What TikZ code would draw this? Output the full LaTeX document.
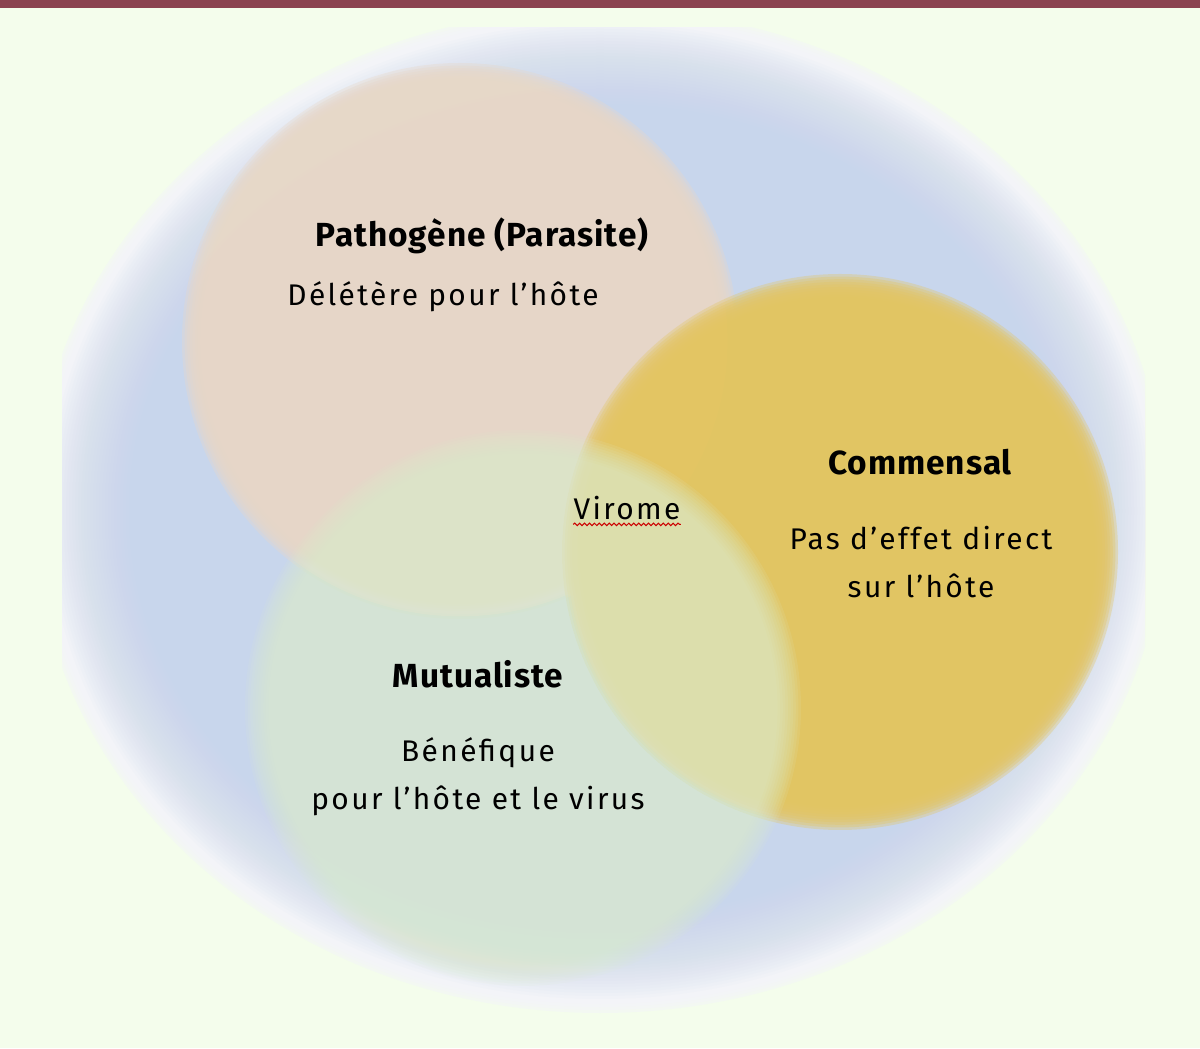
\documentclass[tikz,border=0pt]{standalone}
\usepackage{fontspec}
\setmainfont{Fira Sans}
\usetikzlibrary{decorations.pathmorphing}

\definecolor{fondvert}{RGB}{244,253,236}
\definecolor{bandeau}{RGB}{139,67,80}
\definecolor{halo}{RGB}{243,244,250}
\definecolor{bleu}{RGB}{200,214,236}
\definecolor{rose}{RGB}{232,216,200}
\definecolor{jaune}{RGB}{227,197,99}
\definecolor{vert}{RGB}{220,237,207}

\tikzset{
	titre/.style={font=\addfontfeatures{LetterSpace=3}\bfseries\fontsize{19}{22}\selectfont, anchor=base, inner sep=0pt},
	texte/.style={font=\addfontfeatures{LetterSpace=8}\fontsize{17}{20}\selectfont, anchor=base, inner sep=0pt},
}

\begin{document}
\begin{tikzpicture}[x=0.02cm, y=0.02cm]
			%%%%% START %%%%%
			
			\useasboundingbox (0, 0) rectangle (1200, 1048);
			\fill[fondvert] (0, 0) rectangle (1200, 1048);
			\fill[bandeau] (0, 1040) rectangle (1200, 1048);
			
			% grand halo bleu
			\begin{scope}
				\clip (62, 28) rectangle (1145, 1020);
				\foreach \k in {0,...,5}
					\fill[halo, fill opacity=0.45] (600, 537) ellipse [x radius=566-3*\k, y radius=502-3*\k];
				\foreach \k in {0,...,39}
					\fill[bleu, fill opacity=0.06] (600, 537) ellipse [x radius=552-3*\k, y radius=488-3*\k];
			\end{scope}
			
			% pathogene
			\foreach \k in {0,...,9}
				\fill[rose, fill opacity=0.35] (460, 707) circle [radius=278-2.6*\k];
			
			% commensal
			\foreach \k in {0,...,9}
				\fill[jaune, fill opacity=0.35] (840, 496) circle [radius=278-2.6*\k];
			
			% mutualiste
			\foreach \k in {0,...,9}
				\fill[vert, fill opacity=0.113] (523, 340) circle [radius=278-2.6*\k];
			
			\node[titre] (patho) at (482, 801) {Pathogène (Parasite)};
			\node[texte] (delet) at (443, 742) {Délétère pour l’hôte};
			
			\node[titre] (comm) at (920, 573) {Commensal};
			\node[texte] (effet) at (921, 498) {Pas d’effet direct};
			\node[texte] (surhote) at (921, 450) {sur l’hôte};
			
			\node[texte] (virome) at (627, 528) {Virome};
			\draw[red!80!black, line width=0.6pt, decorate, decoration={snake, amplitude=0.7pt, segment length=2.8pt}]
				([yshift=-2.5pt]virome.base west) -- ([yshift=-2.5pt]virome.base east);
			
			\node[titre] (mutu) at (478, 360) {Mutualiste};
			\node[texte] (benef) at (478, 286) {Bénéfique};
			\node[texte] (hotevirus) at (478, 238) {pour l’hôte et le virus};
			
			%%%%% END %%%%%
\end{tikzpicture}
\end{document}
